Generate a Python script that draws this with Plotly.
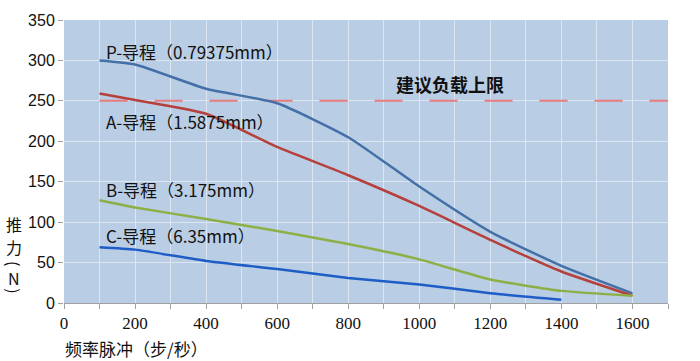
import plotly.graph_objects as go

freq = [100, 200, 400, 600, 800, 1000, 1200, 1400, 1600]
freq_c = [100, 200, 400, 600, 800, 1000, 1200, 1400]
p_vals = [300, 295, 265, 247, 205, 144, 88, 46, 12]
a_vals = [259, 251, 234, 193, 158, 120, 78, 39, 9]
b_vals = [127, 118, 104, 89, 73, 54, 29, 15, 9]
c_vals = [69, 66, 52, 42, 31, 23, 12, 4]
limit_x = [100, 1700]
limit_y = [250, 250]

labels = ["P-导程（0.79375mm）", "A-导程（1.5875mm）", "B-导程（3.175mm）", "C-导程（6.35mm）"]
label_pos = [(112, 311), (112, 225), (112, 140), (112, 84)]
limit_label = "建议负载上限"
x_ticks = [0, 200, 400, 600, 800, 1000, 1200, 1400, 1600]
y_ticks = [0, 50, 100, 150, 200, 250, 300, 350]

L, R, T, B = 64, 32, 12, 58
pw, ph = 700 - L - R, 361 - T - B

fig = go.Figure()
fig.add_trace(go.Scatter(x=limit_x, y=limit_y, mode="lines",
                         line=dict(color="#E87D7D", width=2, dash="28px,27px"),
                         hoverinfo="skip"))
series = [
    (freq, p_vals, "#4370A6"),
    (freq, a_vals, "#B5403C"),
    (freq, b_vals, "#8DB046"),
    (freq_c, c_vals, "#1E5DC6"),
]
for xs, ys, col in series:
    fig.add_trace(go.Scatter(x=xs, y=ys, mode="lines",
                             line=dict(color=col, width=2.5, shape="spline", smoothing=0.5)))

lab_font = dict(family="Noto Sans CJK SC", size=17, color="#111111")
for text, (lx, ly) in zip(labels, label_pos):
    fig.add_annotation(x=lx, y=ly, text=text, showarrow=False, xanchor="left",
                       yanchor="middle", font=lab_font)
fig.add_annotation(x=928, y=271, text="<b>" + limit_label + "</b>", showarrow=False,
                   xanchor="left", yanchor="middle",
                   font=dict(family="Noto Sans CJK SC", size=18, color="#111111"))

# vertical y-axis title, character by character (pixel positions -> paper)
ytitle_chars = ["推", "力", "(", "N", ")"]
ytitle_py = [222, 245, 263, 277, 291]
ytitle_angle = [0, 0, 90, 0, 90]
for ch, py, ang in zip(ytitle_chars, ytitle_py, ytitle_angle):
    fig.add_annotation(x=(14 - L) / pw, y=(361 - B - py) / ph, xref="paper", yref="paper",
                       text=ch, showarrow=False, textangle=ang,
                       xanchor="center", yanchor="middle",
                       font=dict(family="Noto Sans CJK SC", size=16, color="#111111"))

fig.add_annotation(x=(63 - L) / pw, y=(361 - B - 350) / ph, xref="paper", yref="paper",
                   text="频率脉冲（步/秒）", showarrow=False, xanchor="left", yanchor="middle",
                   font=dict(family="Noto Sans CJK SC", size=17, color="#111111"))

fig.update_layout(
    width=700, height=361,
    margin=dict(l=L, r=R, t=T, b=B),
    paper_bgcolor="white",
    plot_bgcolor="#B9CDE4",
    showlegend=False,
)
fig.update_xaxes(range=[0, 1700], tickvals=x_ticks, showgrid=True, gridcolor="#DCE6F2",
                 gridwidth=1, ticks="outside", ticklen=5, tickcolor="#A0A0A0",
                 showline=True, linecolor="#A0A0A0", linewidth=1,
                 minor=dict(dtick=100, tick0=0, showgrid=True, gridcolor="#DCE6F2",
                            ticks="outside", ticklen=5, tickcolor="#A0A0A0"),
                 tickfont=dict(family="Liberation Serif", size=17, color="#111111"),
                 zeroline=False, fixedrange=True)
fig.update_yaxes(range=[0, 350], tickvals=y_ticks, showgrid=True, gridcolor="#DCE6F2",
                 gridwidth=1, ticks="outside", ticklen=5, tickcolor="#A0A0A0",
                 showline=False,
                 tickfont=dict(family="Liberation Sans", size=16, color="#111111"),
                 zeroline=False, fixedrange=True)

fig.write_html("out.html", config={"displayModeBar": False},
               post_script="document.body.style.margin='0';document.body.style.overflow='hidden';")
